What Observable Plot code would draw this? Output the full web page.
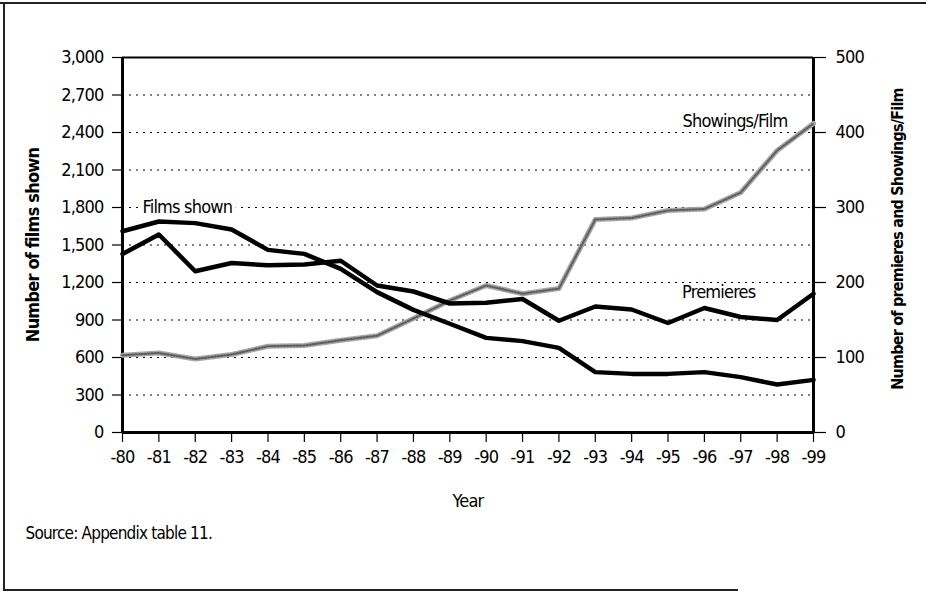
<!DOCTYPE html>
<html>
<head>
<meta charset="utf-8">
<script src="https://cdn.jsdelivr.net/npm/d3@7"></script>
<script src="https://cdn.jsdelivr.net/npm/@observablehq/plot@0.6"></script>
<style>
  html, body { margin: 0; padding: 0; background: white; }
  #wrap { position: relative; width: 926px; height: 592px; overflow: hidden; }
  #wrap svg { position: absolute; left: 0; top: 0; }
  .bline { position: absolute; background: #222; }
</style>
</head>
<body>
<div id="wrap">
  <div class="bline" style="left:0;top:2px;width:926px;height:2px;"></div>
  <div class="bline" style="left:3px;top:2px;width:2px;height:589px;"></div>
  <div class="bline" style="left:3px;top:589px;width:735px;height:2px;"></div>
</div>
<script>
// ---- data ----
const years = [1980,1981,1982,1983,1984,1985,1986,1987,1988,1989,1990,1991,1992,1993,1994,1995,1996,1997,1998,1999];
const filmsShown = [1610,1688,1675,1624,1461,1429,1309,1123,981,870,757,731,677,483,469,469,483,443,384,421];
const premieres = [238,264,215,226,223,224,229,196,188,172,173,178,149,168,164,146,166,154,150,185];
const showingsPerFilm = [103,106,98,104,115,116,123,129,152,176,196,185,192,284,286,296,298,320,376,412];
const leftTicks = [0,300,600,900,1200,1500,1800,2100,2400,2700,3000];
const rightTicks = [0,100,200,300,400,500];
const gridValues = [300,600,900,1200,1500,1800,2100,2400,2700];
const ratio = 6; // left-axis units per right-axis unit (3000 / 500)

const seriesLabels = [
  {text: "Films shown", year: 1980, value: 1800, axis: "left"},
  {text: "Showings/Film", year: 1999, value: 415, axis: "right"},
  {text: "Premieres", year: 1995, value: 187, axis: "right"}
];

const rows = years.map((y, i) => ({year: y, films: filmsShown[i], prem: premieres[i], spf: showingsPerFilm[i]}));
const lblY = d => d.axis === "right" ? d.value * ratio : d.value;

const font = '"DejaVu Sans Condensed", "DejaVu Sans", sans-serif';

const chart = Plot.plot({
  width: 926,
  height: 592,
  marginLeft: 122,
  marginRight: 113,
  marginTop: 57,
  marginBottom: 160,
  style: {fontFamily: font, fontStretch: "condensed", fontSize: "18px", letterSpacing: "-0.8px", background: "transparent", color: "black"},
  x: {type: "linear", domain: [1980, 1999]},
  y: {type: "linear", domain: [0, 3000]},
  marks: [
    Plot.ruleY(gridValues, {stroke: "black", strokeWidth: 1, strokeDasharray: "2,5"}),
    // frame
    Plot.ruleY([3000], {stroke: "black", strokeWidth: 2}),
    Plot.ruleY([0], {stroke: "black", strokeWidth: 3}),
    Plot.ruleX([1980], {stroke: "black", strokeWidth: 3}),
    Plot.ruleX([1999], {stroke: "black", strokeWidth: 3}),
    // axes
    Plot.axisY({anchor: "left", ticks: leftTicks, tickFormat: d3.format(","), tickSize: 10, tickPadding: 9, label: null, strokeWidth: 1.2}),
    Plot.axisY({anchor: "right", ticks: rightTicks.map(v => v * ratio), tickFormat: d => d3.format(",")(d / ratio), tickSize: 12, tickPadding: 10, label: null, strokeWidth: 1.2}),
    Plot.axisX({ticks: years, tickFormat: d => "-" + String(d).slice(2), tickSize: 10, tickPadding: 8, label: null, strokeWidth: 1.2}),
    // Showings/Film textured gray line
    Plot.line(rows, {x: "year", y: d => d.spf * ratio, stroke: "#a6a6a6", strokeWidth: 5}),
    Plot.line(rows, {x: "year", y: d => d.spf * ratio, stroke: "#5e5e5e", strokeWidth: 2.2, strokeDasharray: "1.2,2"}),
    // black lines
    Plot.line(rows, {x: "year", y: "films", stroke: "black", strokeWidth: 4.5}),
    Plot.line(rows, {x: "year", y: d => d.prem * ratio, stroke: "black", strokeWidth: 4.5}),
    // series labels
    Plot.text(seriesLabels.filter(d => d.text === "Films shown"), {x: "year", y: lblY, text: "text", textAnchor: "start", dx: 20, fill: "black", stroke: "white", strokeWidth: 8, fontSize: 18}),
    Plot.text(seriesLabels.filter(d => d.text === "Showings/Film"), {x: "year", y: lblY, text: "text", textAnchor: "end", dx: -26, fill: "black", stroke: "white", strokeWidth: 6, fontSize: 18}),
    Plot.text(seriesLabels.filter(d => d.text === "Premieres"), {x: "year", y: lblY, text: "text", textAnchor: "start", dx: 14, fill: "black", fontSize: 18}),
    // axis titles
    Plot.text(["Number of films shown"], {frameAnchor: "left", textAnchor: "middle", dx: -89, rotate: -90, fontWeight: "bold", fontSize: 18, fill: "black"}),
    Plot.text(["Number of premieres and Showings/Film"], {frameAnchor: "right", textAnchor: "middle", dx: 84, dy: -6, rotate: -90, fontWeight: "bold", fontSize: 16, fill: "black"}),
    Plot.text(["Year"], {frameAnchor: "bottom", dy: 74, fontSize: 18, fill: "black"}),
    Plot.text(["Source: Appendix table 11."], {frameAnchor: "bottom-left", textAnchor: "start", dx: -97, dy: 106, fontSize: 17, fill: "black", style: "word-spacing:3px"})
  ]
});
document.getElementById("wrap").appendChild(chart);
</script>
</body>
</html>
